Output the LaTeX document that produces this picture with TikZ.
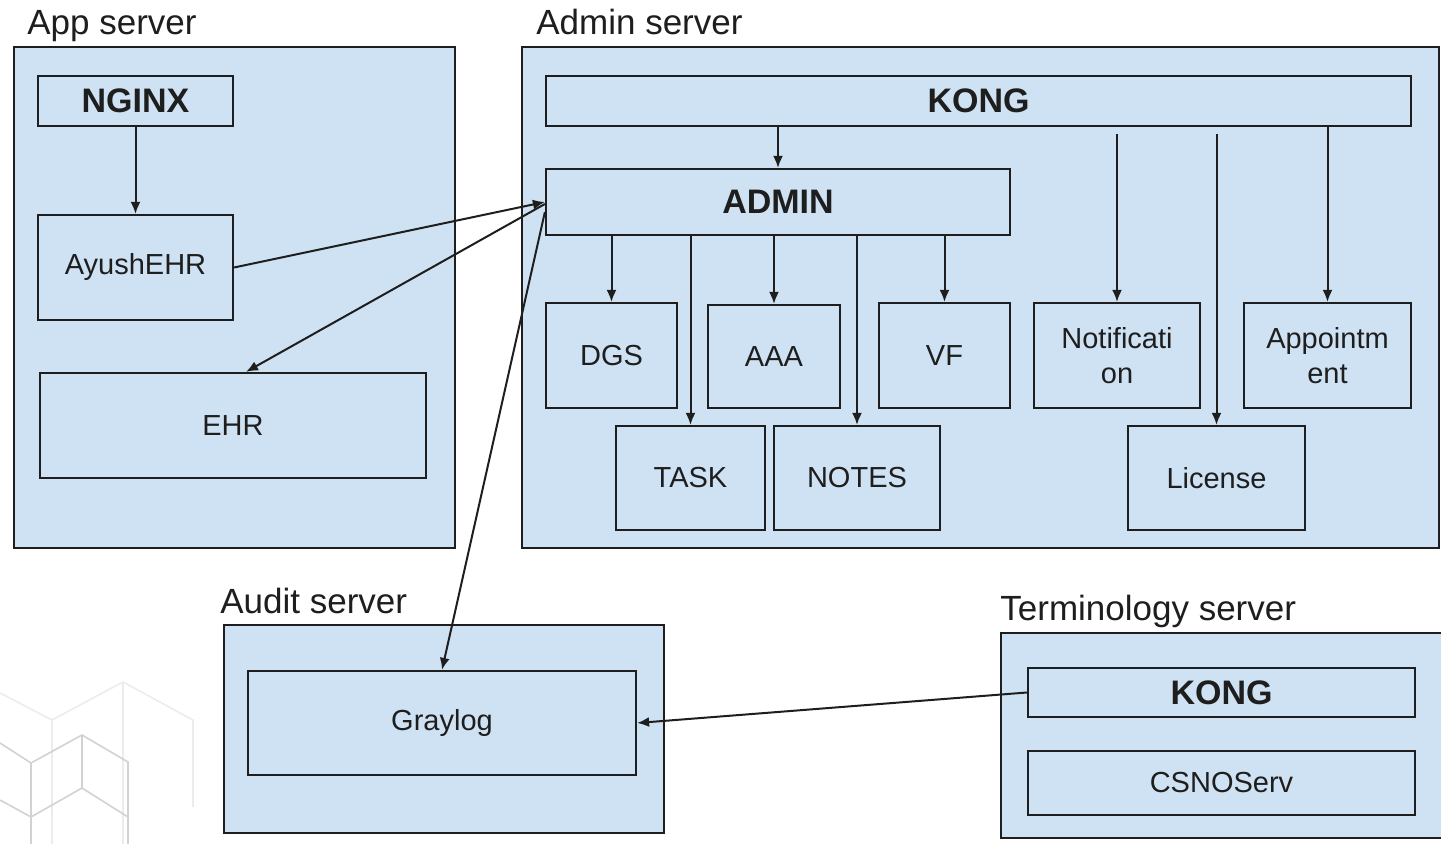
\documentclass[tikz,border=0pt]{standalone}
\usepackage{fontspec}
\setmainfont{Liberation Sans}
\usetikzlibrary{arrows.meta}
\definecolor{boxblue}{HTML}{CFE2F3}
\definecolor{inkgray}{HTML}{1E1E1E}

\tikzset{
    server/.style={draw=inkgray, line width=1.1pt, fill=boxblue, inner sep=0pt},
    part/.style={draw=inkgray, line width=1.1pt, fill=boxblue, inner sep=0pt, align=center,
        text=inkgray, font=\fontsize{14.5}{17.5}\selectfont},
    bigpart/.style={part, font=\fontsize{17}{20}\selectfont\bfseries},
    title/.style={anchor=base west, inner sep=0pt, text=inkgray,
        font=\fontsize{17.5}{21}\selectfont},
    link/.style={->, line width=1pt, draw=inkgray, >={Latex[length=6pt,width=5pt]}},
}

\begin{document}
\begin{tikzpicture}[x=0.5pt, y=-0.5pt]
        \useasboundingbox (0,0) rectangle (1441,844);

        % faint logo in the corner
        \draw[gray!15, line width=0.8pt] (0,693) -- (52,720) -- (123,682) -- (193,720) -- (193,807)
            (52,720) -- (52,844) (123,682) -- (123,844);
        \draw[gray!35, line width=0.8pt] (0,743) -- (31,763) -- (82,735) -- (128,762) -- (128,844)
            (82,735) -- (82,788) -- (128,817) (31,763) -- (31,844)
            (0,800) -- (31,817) -- (82,788);

        % servers
        \node[server, minimum width=220.5pt, minimum height=250.5pt] at (234.5,297.5) (appsrv) {};
        \node[server, minimum width=458.5pt, minimum height=250.5pt] at (980.5,297.5) (adminsrv) {};
        \node[server, minimum width=220pt, minimum height=104pt] at (444,729) (auditsrv) {};
        \node[server, minimum width=222pt, minimum height=102.5pt] at (1223,735.5) (termsrv) {};

        \node[title] at (27,35) (appname) {App server};
        \node[title] at (536,35) (adminname) {Admin server};
        \node[title] at (220,613) (auditname) {Audit server};
        \node[title] at (1000,620) (termname) {Terminology server};

        % app server
        \node[bigpart, minimum width=97.5pt, minimum height=25pt] at (135.5,101) (nginx) {NGINX};
        \node[part, minimum width=97.5pt, minimum height=52.5pt] at (135.5,267.5) (ayush) {AyushEHR};
        \node[part, minimum width=193pt, minimum height=52.5pt] at (233,425.5) (ehr) {EHR};

        % admin server
        \node[bigpart, minimum width=432.5pt, minimum height=25pt] at (978.5,101) (kong) {KONG};
        \node[bigpart, minimum width=232pt, minimum height=33pt] at (778,202) (admin) {ADMIN};
        \node[part, minimum width=65.5pt, minimum height=52.5pt] at (611.5,355.5) (dgs) {DGS};
        \node[part, minimum width=66pt, minimum height=51.5pt] at (774,356.5) (aaa) {AAA};
        \node[part, minimum width=65.5pt, minimum height=52.5pt] at (944.5,355.5) (vf) {VF};
        \node[part, minimum width=83pt, minimum height=52.5pt] at (1117,355.5) (notif) {Notificati\\on};
        \node[part, minimum width=83.5pt, minimum height=52.5pt] at (1327.5,355.5) (appoint) {Appointm\\ent};
        \node[part, minimum width=74.5pt, minimum height=52pt] at (690.5,478) (task) {TASK};
        \node[part, minimum width=83pt, minimum height=52pt] at (857,478) (notes) {NOTES};
        \node[part, minimum width=88.5pt, minimum height=52pt] at (1216.5,478) (license) {License};

        % audit and terminology servers
        \node[part, minimum width=194pt, minimum height=52pt] at (442,723) (graylog) {Graylog};
        \node[bigpart, minimum width=193.5pt, minimum height=24.5pt] at (1221.5,692.5) (kong2) {KONG};
        \node[part, minimum width=193.5pt, minimum height=32pt] at (1221.5,783) (csno) {CSNOServ};

        % connectors
        \draw[link] (nginx) -- (ayush);
        \draw[link] (ayush.east) -- (admin.west);
        \draw[link] ([yshift=-1pt]admin.west) -- ([xshift=6.5pt]ehr.north);
        \draw[link] ([yshift=-5pt]admin.west) -- (graylog.north);

        \draw[link] (kong.south -| admin.north) -- (admin.north);
        \draw[link] (admin.south -| dgs.north) -- (dgs.north);
        \draw[link] (admin.south -| task.north) -- (task.north);
        \draw[link] (admin.south -| aaa.north) -- (aaa.north);
        \draw[link] (admin.south -| notes.north) -- (notes.north);
        \draw[link] (admin.south -| vf.north) -- (vf.north);

        \draw[link, shorten <=3.5pt] (kong.south -| notif.north) -- (notif.north);
        \draw[link, shorten <=3.5pt] (kong.south -| license.north) -- (license.north);
        \draw[link] (kong.south -| appoint.north) -- (appoint.north);

        \draw[link] (kong2.west) -- (graylog.east);
\end{tikzpicture}
\end{document}
